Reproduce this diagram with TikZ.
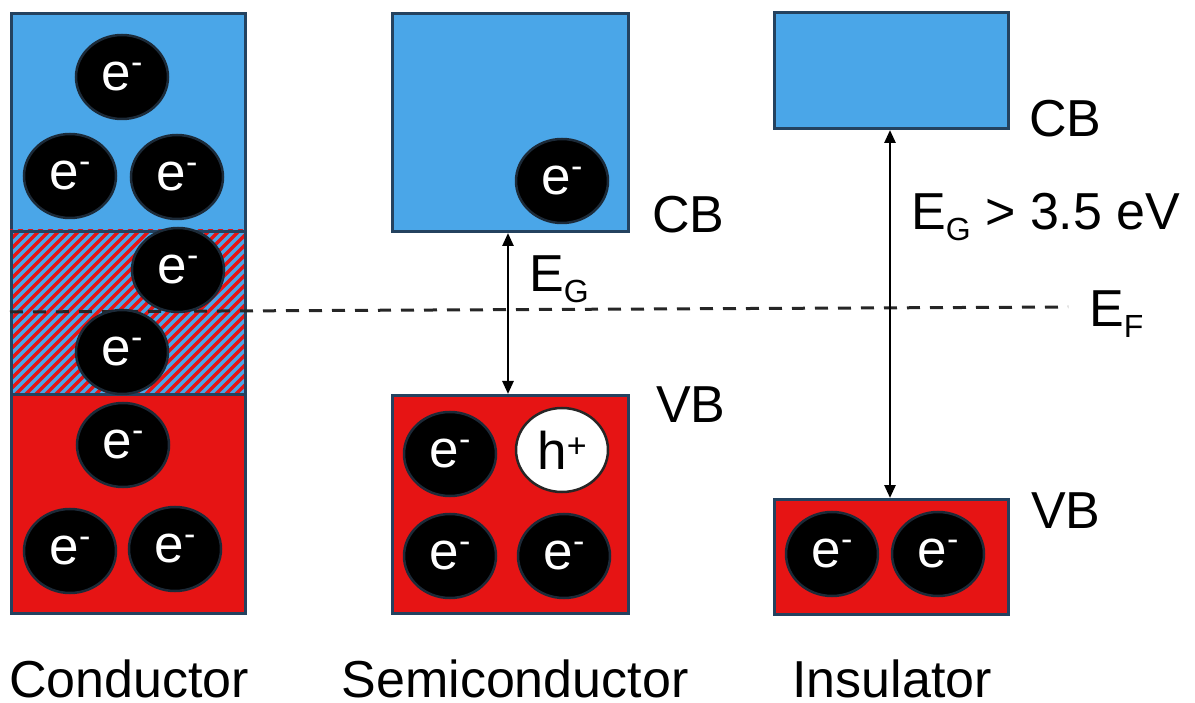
\documentclass[tikz,border=0pt]{standalone}
\usepackage{fontspec}
\setmainfont{Liberation Sans}
\usetikzlibrary{arrows.meta,shapes.geometric}
\definecolor{bandblue}{HTML}{4AA6E8}
\definecolor{bandred}{HTML}{E61414}
\definecolor{edgeblue}{HTML}{24425F}
\definecolor{eedge}{HTML}{1C2A38}
\newcommand{\elsym}{e\raisebox{17pt}{\fontsize{34}{34}\selectfont -}}
\newcommand{\hosym}{h\raisebox{12pt}{\fontsize{34}{34}\selectfont +}}
\newcommand{\subsym}[1]{\raisebox{-11pt}{\fontsize{32}{32}\selectfont #1}}
\begin{document}
\begin{tikzpicture}[x=1pt,y=-1pt,
  bandbox/.style={draw=edgeblue, line width=3pt, anchor=north west, inner sep=0pt},
  elec/.style={ellipse, draw=eedge, line width=2.5pt, fill=black, text=white,
    minimum width=92pt, minimum height=84pt, inner sep=0pt,
    font=\fontsize{53}{53}\selectfont, text height=27.5pt, text depth=0pt},
  hole/.style={elec, fill=white, text=black, draw=black!85, text height=39pt, yshift=2pt},
  lbl/.style={anchor=base west, inner sep=0pt, font=\fontsize{52}{60}\selectfont},
  captext/.style={anchor=base, inner sep=0pt, font=\fontsize{52}{60}\selectfont, text depth=0pt},
  gaparrow/.style={line width=2.6pt, {Triangle[length=13pt,width=11pt]}-{Triangle[length=13pt,width=11pt]}},
  fermi/.style={line width=3pt, dash pattern=on 13pt off 10pt, black!85}]
\useasboundingbox (0,0) rectangle (1195,703);

% Conductor
\node[bandbox, fill=bandblue, minimum width=234pt, minimum height=218pt] (cblue) at (10,12) {};
\node[bandbox, fill=bandred, minimum width=234pt, minimum height=219pt] (cred) at (10,393) {};
\begin{scope}
  \clip (10,230) rectangle (244,393);
  \fill[bandblue] (10,230) rectangle (244,393);
  \foreach \k in {-17,...,25}
    \draw[bandred, line width=3.4pt] ({10*\k},400) -- ++(180,-180);
\end{scope}
\node[bandbox, minimum width=234pt, minimum height=163pt] (chatch) at (10,230) {};

% Semiconductor
\node[bandbox, fill=bandblue, minimum width=236pt, minimum height=218pt] (scb) at (391,12) {};
\node[bandbox, fill=bandred, minimum width=236pt, minimum height=218pt] (svb) at (391,394) {};

% Insulator
\node[bandbox, fill=bandblue, minimum width=234pt, minimum height=116pt] (icb) at (773,11) {};
\node[bandbox, fill=bandred, minimum width=234pt, minimum height=115pt] (ivb) at (773,498) {};

% Fermi level
\coordinate (efl) at (10,312);
\coordinate (efr) at (1068,307);
\draw[fermi] (efl) -- (efr);

% gap arrows
\coordinate (sax) at (508,0);
\coordinate (iax) at (890,0);
\draw[gaparrow] (scb.south -| sax) -- (svb.north -| sax);
\draw[gaparrow] (icb.south -| iax) -- (ivb.north -| iax);

% electrons, conductor
\node[elec] (c1) at (122,77) {\elsym};
\node[elec] (c2) at (70,176) {\elsym};
\node[elec] (c3) at (177,177) {\elsym};
\node[elec] (c4) at (178,270) {\elsym};
\node[elec] (c5) at (122,352) {\elsym};
\node[elec] (c6) at (123,445) {\elsym};
\node[elec] (c7) at (70,551) {\elsym};
\node[elec] (c8) at (175,549) {\elsym};

% electrons, semiconductor
\node[elec] (s1) at (562,181) {\elsym};
\node[elec] (s2) at (450,454) {\elsym};
\node[hole] (s3) at (562,452) {\hosym};
\node[elec] (s4) at (450,556) {\elsym};
\node[elec] (s5) at (564,556) {\elsym};

% electrons, insulator
\node[elec] (i1) at (832,554) {\elsym};
\node[elec] (i2) at (938,554) {\elsym};

% labels
\node[lbl] (lscb) at (652,233) {CB};
\node[lbl] (lsvb) at (656,423) {VB};
\node[lbl] (lseg) at (529,292) {E\subsym{G}};
\node[lbl] (licb) at (1029,137) {CB};
\node[lbl] (livb) at (1031,528) {VB};
\node[lbl] (lieg) at (911,230) {E\subsym{G} > 3.5 eV};
\node[lbl] (lef) at (1089,327) {E\subsym{F}};

\node[captext] (tcond) at (129,697) {Conductor};
\node[captext] (tsemi) at (515,697) {Semiconductor};
\node[captext] (tins) at (892,697) {Insulator};
\end{tikzpicture}
\end{document}
